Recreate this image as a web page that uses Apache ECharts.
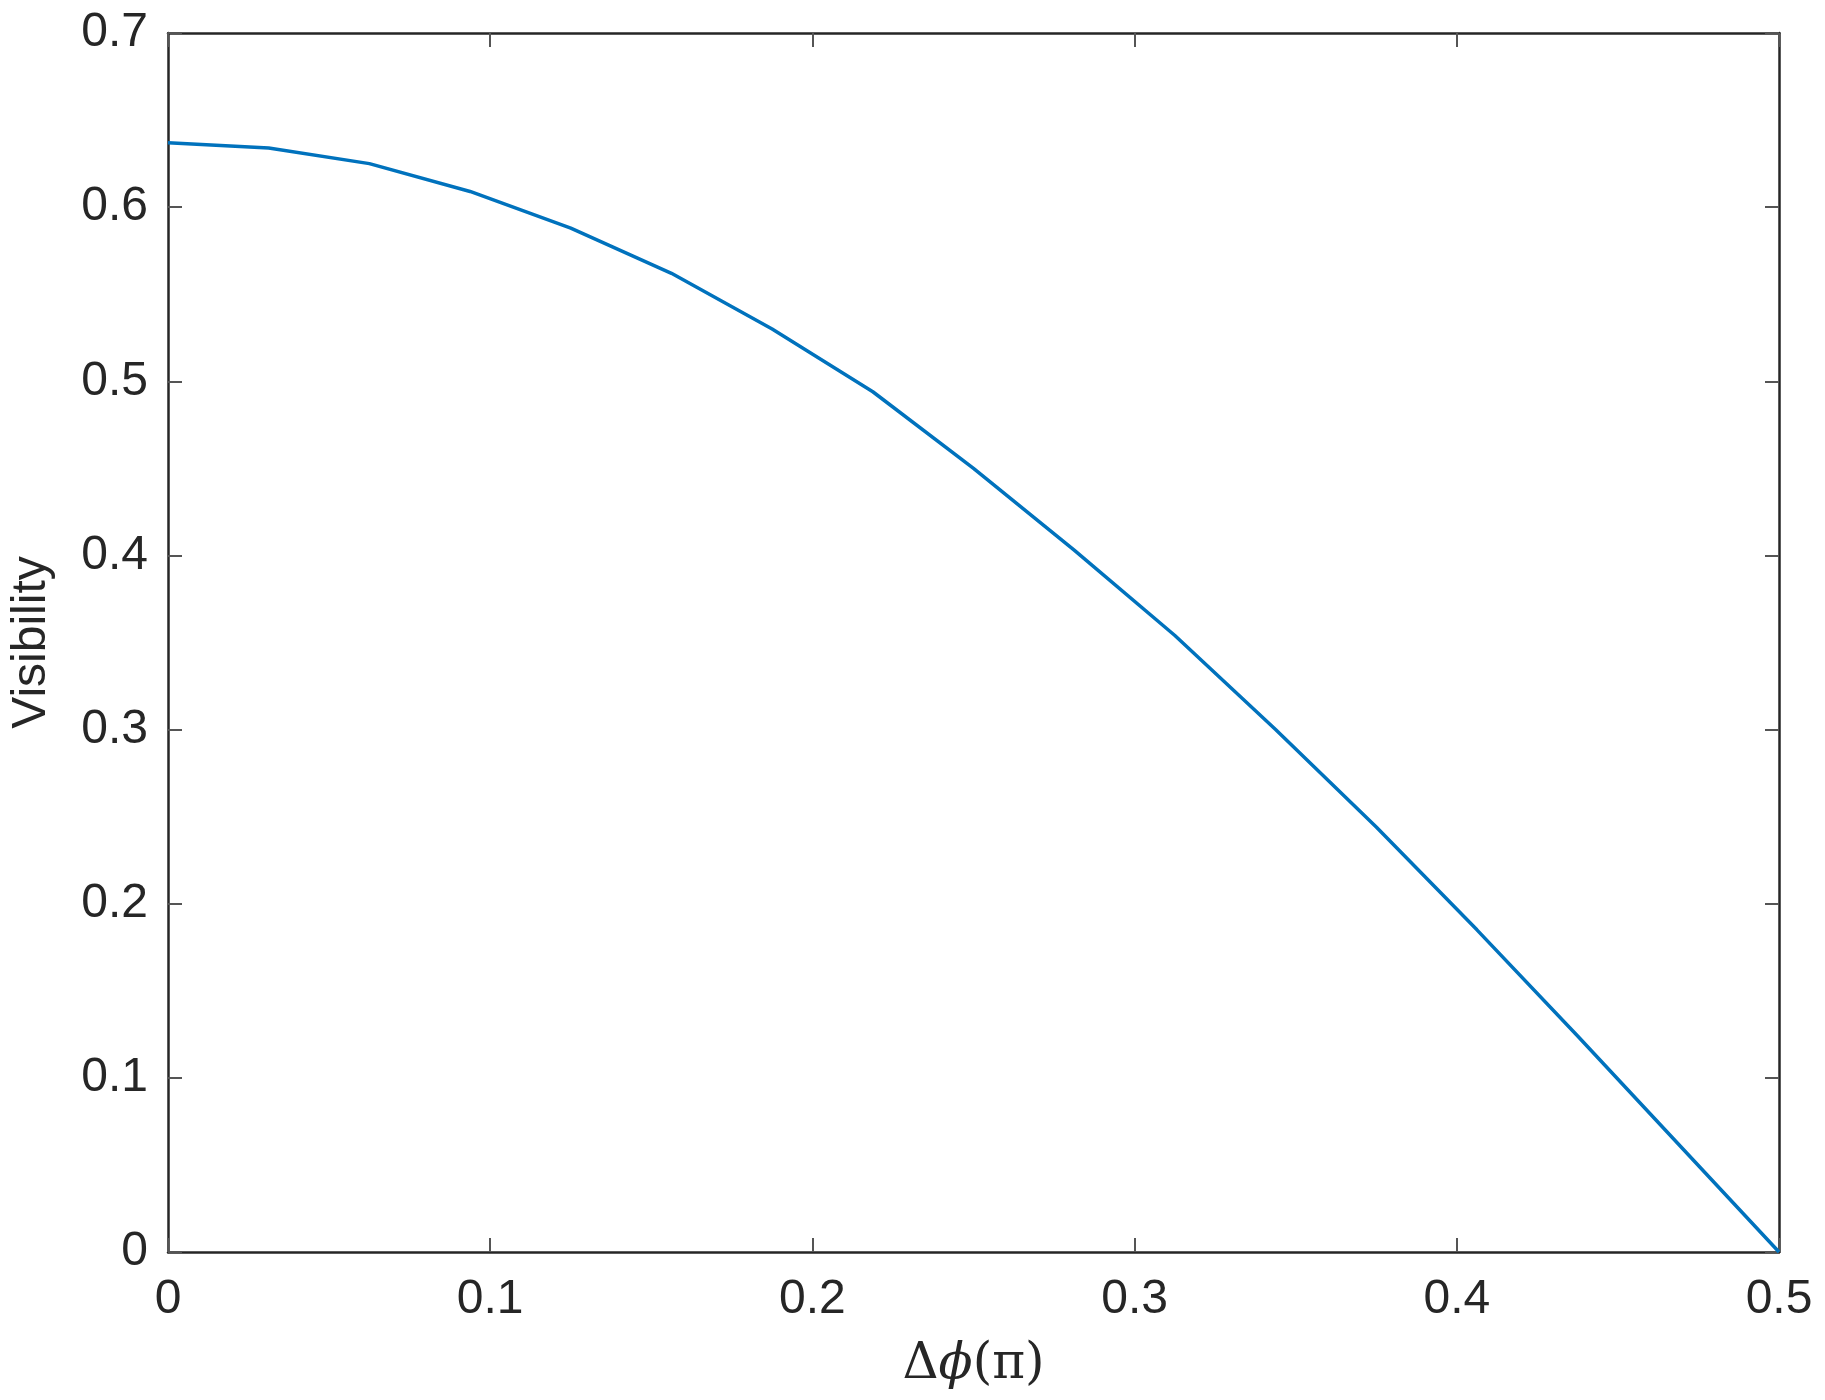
<!DOCTYPE html>
<html><head><meta charset="utf-8">
<script src="https://cdn.jsdelivr.net/npm/echarts@6/dist/echarts.min.js"></script>
<style>html,body{margin:0;background:#fff}#main{width:1825px;height:1400px}</style>
</head><body><div id="main"></div>
<script>
var dphi = [0, 0.03125, 0.0625, 0.09375, 0.125, 0.15625, 0.1875, 0.21875, 0.25, 0.28125, 0.3125, 0.34375, 0.375, 0.40625, 0.4375, 0.46875, 0.5];
var visibility = [0.637, 0.634, 0.625, 0.609, 0.588, 0.562, 0.530, 0.494, 0.450, 0.403, 0.354, 0.300, 0.244, 0.185, 0.124, 0.062, 0];

var pts = dphi.map(function (x, i) { return [x, visibility[i]]; });
var lab = { color: '#262626', fontSize: 48, fontFamily: 'Liberation Sans, Arial, sans-serif' };
var line = { show: true, onZero: false, lineStyle: { color: '#262626', width: 2.5 } };
var tick = { show: true, inside: true, length: 14, lineStyle: { color: '#555', width: 2 } };
var fmt = function (v) { return Math.round(v * 10) / 10 + ''; };

var option = {
  animation: false,
  grid: { left: 155, right: 46, top: 33, bottom: 148 },
  xAxis: [
    { type: 'value', min: 0, max: 0.5, interval: 0.1, axisLine: line, axisTick: tick, splitLine: { show: false },
      axisLabel: Object.assign({ margin: 24, formatter: fmt }, lab),
      name: 'Δ{i|ϕ}(π)', nameLocation: 'middle', nameGap: 88,
      nameTextStyle: { color: '#262626', fontSize: 50, fontFamily: 'DejaVu Serif, serif',
        rich: { i: { fontStyle: 'italic', fontSize: 50, fontFamily: 'DejaVu Serif, serif', color: '#262626' } } } },
    { type: 'value', position: 'top', min: 0, max: 0.5, interval: 0.1, axisLine: line, axisTick: tick,
      axisLabel: { show: false }, splitLine: { show: false } }
  ],
  yAxis: [
    { type: 'value', min: 0, max: 0.7, interval: 0.1, axisLine: line, axisTick: tick, splitLine: { show: false },
      axisLabel: Object.assign({ margin: 20, formatter: fmt }, lab),
      name: 'Visibility', nameLocation: 'middle', nameGap: 112,
      nameTextStyle: { color: '#262626', fontSize: 48, fontFamily: 'Liberation Sans, Arial, sans-serif' } },
    { type: 'value', position: 'right', min: 0, max: 0.7, interval: 0.1, axisLine: line, axisTick: tick,
      axisLabel: { show: false }, splitLine: { show: false } }
  ],
  series: [{
    type: 'line', data: pts, showSymbol: false, smooth: false,
    lineStyle: { color: '#0072BD', width: 3.5 }
  }]
};
echarts.init(document.getElementById('main')).setOption(option);
</script></body></html>
